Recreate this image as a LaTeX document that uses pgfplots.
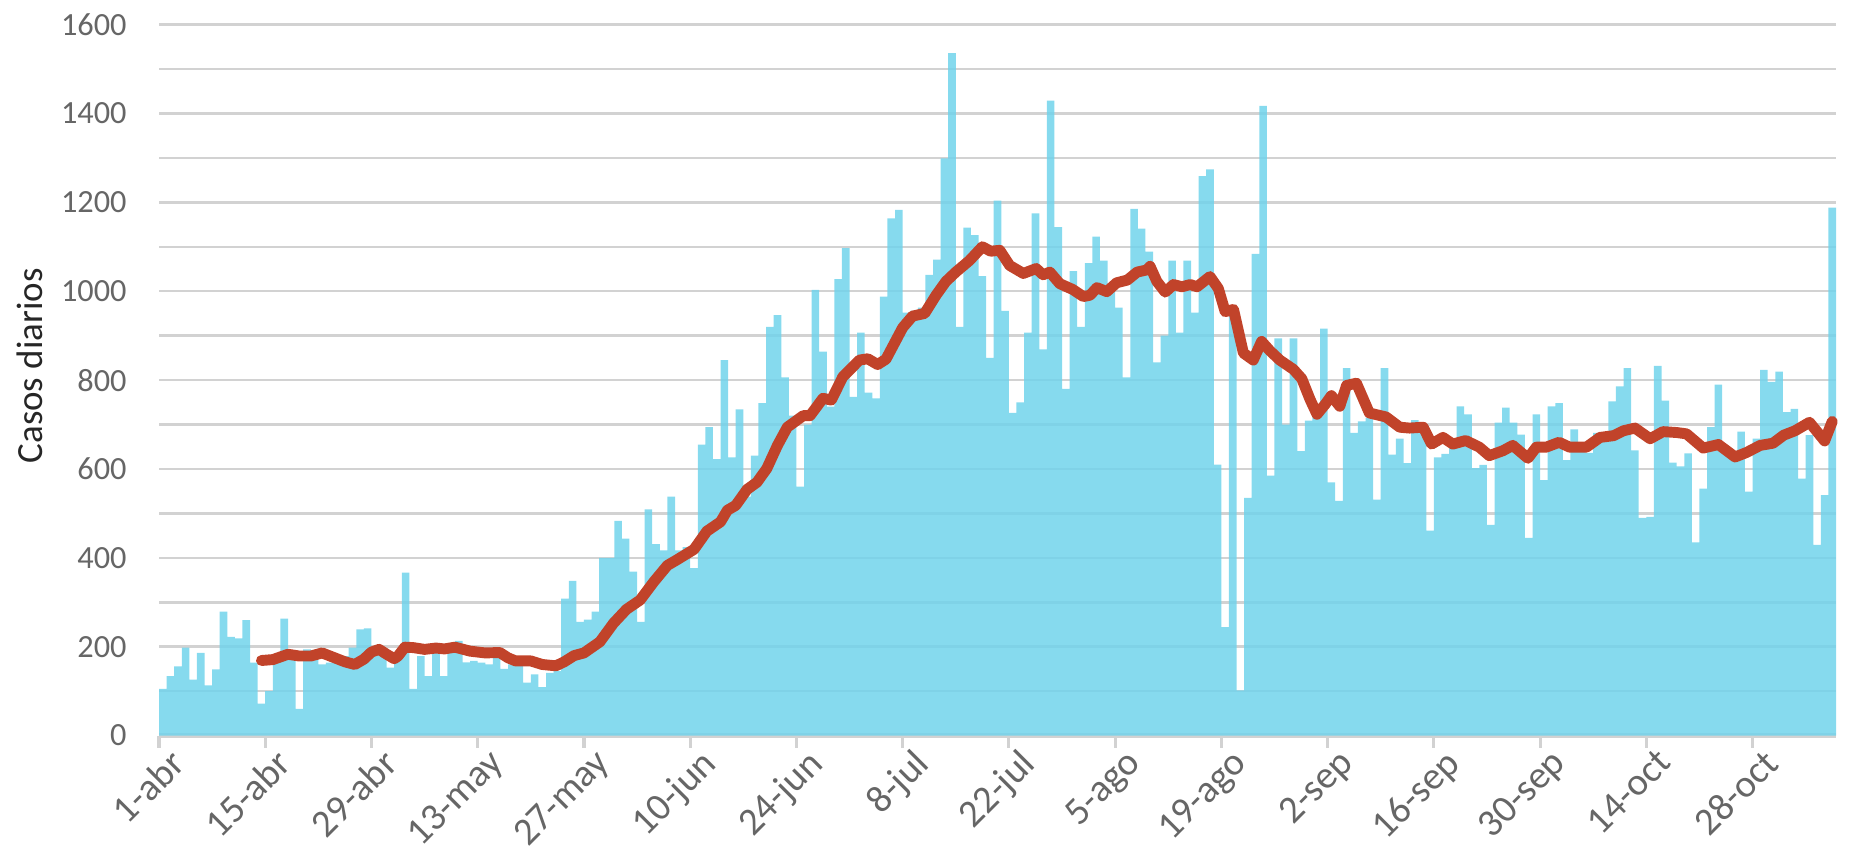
\documentclass[border=0pt]{standalone}
\usepackage{fontspec}
\setmainfont{Carlito}
\usepackage{pgfplots}
\usepackage{pgfplotstable}
\pgfplotsset{compat=1.18}

\definecolor{barblue}{HTML}{71D3EB}
\definecolor{avgred}{HTML}{C1432A}
\definecolor{gridgray}{HTML}{D2D2D2}
\definecolor{ticktext}{HTML}{666666}

% casos diarios, dia 0 = 1-abr (ultima fila repetida para cerrar la barra)
\pgfplotstableread{
day cases
0 105
1 134
2 156
3 198
4 126
5 186
6 113
7 149
8 279
9 222
10 219
11 260
12 164
13 72
14 100
15 170
16 263
17 180
18 60
19 194
20 190
21 160
22 164
23 164
24 179
25 198
26 239
27 241
28 186
29 186
30 153
31 171
32 367
33 105
34 179
35 134
36 186
37 134
38 198
39 213
40 165
41 168
42 164
43 160
44 175
45 150
46 160
47 160
48 119
49 138
50 109
51 141
52 145
53 308
54 348
55 256
56 261
57 279
58 400
59 400
60 483
61 443
62 369
63 256
64 509
65 431
66 417
67 538
68 417
69 424
70 377
71 655
72 694
73 622
74 845
75 626
76 734
77 538
78 630
79 748
80 920
81 946
82 806
83 720
84 560
85 700
86 1003
87 864
88 740
89 1027
90 1097
91 762
92 907
93 772
94 759
95 988
96 1164
97 1183
98 952
99 956
100 963
101 1037
102 1071
103 1299
104 1536
105 920
106 1143
107 1126
108 1034
109 850
110 1204
111 956
112 726
113 750
114 907
115 1175
116 869
117 1429
118 1144
119 780
120 1045
121 920
122 1063
123 1123
124 1069
125 1006
126 963
127 806
128 1185
129 1141
130 1089
131 840
132 900
133 1069
134 907
135 1069
136 952
137 1259
138 1274
139 610
140 244
141 950
142 102
143 535
144 1084
145 1417
146 585
147 894
148 700
149 894
150 640
151 709
152 736
153 916
154 570
155 528
156 827
157 681
158 707
159 715
160 531
161 827
162 632
163 668
164 613
165 710
166 695
167 461
168 626
169 634
170 660
171 741
172 723
173 602
174 609
175 474
176 704
177 738
178 704
179 677
180 445
181 723
182 575
183 741
184 748
185 620
186 689
187 640
188 636
189 681
190 679
191 752
192 786
193 827
194 642
195 490
196 492
197 832
198 754
199 614
200 606
201 635
202 435
203 556
204 694
205 790
206 650
207 637
208 684
209 549
210 668
211 823
212 796
213 819
214 728
215 735
216 578
217 676
218 429
219 541
220 1188
221 1188
}\casos

% media movil
\pgfplotstableread{
x y
13.5 169
15 171
17 183
18.5 179
20 179
21.5 186
23 176
24.5 166
25.8 160
27 172
28 188
29 194
30 183
31 173
31.5 179
32.4 199
33.5 198
35 194
36.5 197
37.6 195
39 199
41 190
43 186
44.9 187
46 175
47 168
49 168
50.5 160
52.3 157
53.4 166
54.7 180
56 186
58.1 211
59.9 253
61.6 284
63.4 305
65.2 346
67 383
68.2 395
70.5 419
72.2 460
74 481
74.9 507
76 518
77.5 554
78.8 570
80.1 601
81.5 653
82.8 694
84.9 720
85.8 720
87.5 759
88.6 755
90.1 807
92.3 845
93.4 848
94.7 835
95.8 847
98 918
99.3 944
100.9 950
102.4 991
103.7 1022
105 1043
106.8 1069
108.5 1100
109.6 1090
110.8 1092
112.1 1058
113.9 1040
115.6 1051
116.5 1037
117.4 1043
118.7 1017
120.4 1004
121.8 988
122.7 991
123.6 1008
124.9 999
126.2 1019
127.6 1025
128.9 1043
130.2 1048
130.6 1056
131.5 1022
132.6 998
133.7 1015
134.8 1010
135.9 1015
136.8 1010
138.5 1033
139.6 1006
140.5 954
141.6 959
142.9 861
144.2 845
145.3 887
146.4 866
147.7 845
149.5 824
150.6 803
151.7 756
152.6 723
153.7 746
154.5 765
155.6 741
156.5 788
157.8 793
159.5 726
161.7 717
163.5 694
164.8 692
166.6 694
167.7 656
169.2 671
170.5 656
172.2 664
174 649
175.3 630
177.1 641
178.4 653
180.4 624
181.5 649
182.8 649
184.5 660
185.9 649
188.1 649
189.9 671
191.7 675
193 686
194.5 692
196.5 668
198.2 684
200 682
201.3 679
203.5 647
205.5 655
207.7 627
209.2 637
211 653
212.7 658
214.1 676
215.6 686
217.5 705
219.5 663
220.5 707
}\media

\begin{document}
\begin{tikzpicture}
\begin{axis}[
  name=ax,
  scale only axis,
  width=167.7mm, height=71.1mm,
  xmin=0, xmax=221, ymin=0, ymax=1600,
  separate axis lines,
  axis x line*=bottom,
  axis y line*=left,
  y axis line style={draw=none},
  x axis line style={gridgray, line width=1.3pt, -},
  tick align=outside,
  major tick length=1.2mm,
  xtick style={gridgray, line width=0.9pt},
  ytick style={draw=none},
  minor tick length=0pt,
  xtick={0,14,...,210},
  xticklabels={1-abr,15-abr,29-abr,13-may,27-may,10-jun,24-jun,8-jul,22-jul,5-ago,19-ago,2-sep,16-sep,30-sep,14-oct,28-oct},
  ytick={0,200,...,1600},
  minor ytick={100,300,...,1500},
  ymajorgrids, yminorgrids,
  major grid style={gridgray, line width=0.7pt},
  minor grid style={gridgray, line width=0.7pt},
  /pgf/number format/assume math mode=true,
  /pgf/number format/1000 sep={},
  yticklabel style={font=\fontsize{9.2}{11}\selectfont, text=ticktext, xshift=-0.8mm},
  xticklabel style={font=\fontsize{11}{13}\selectfont, text=ticktext, rotate=45, anchor=north east, inner sep=1pt, xshift=1.1mm, yshift=-0.2mm},
  ylabel={Casos diarios},
  ylabel style={font=\fontsize{10.5}{12}\selectfont, text=black!85, at={(axis description cs:-0.077,0.52)}, anchor=center},
  clip=false,
]
\addplot[const plot mark left, fill=barblue, fill opacity=0.85, draw=none] table[x=day, y=cases] {\casos} \closedcycle;
\addplot[avgred, line width=3.1pt, line join=round, line cap=round] table[x=x, y=y] {\media};
\end{axis}
\pgfresetboundingbox
\path[use as bounding box] ([xshift=-15.9mm, yshift=-11.5mm]ax.south west) rectangle ([xshift=1.3mm, yshift=2.46mm]ax.north east);
\end{tikzpicture}
\end{document}
